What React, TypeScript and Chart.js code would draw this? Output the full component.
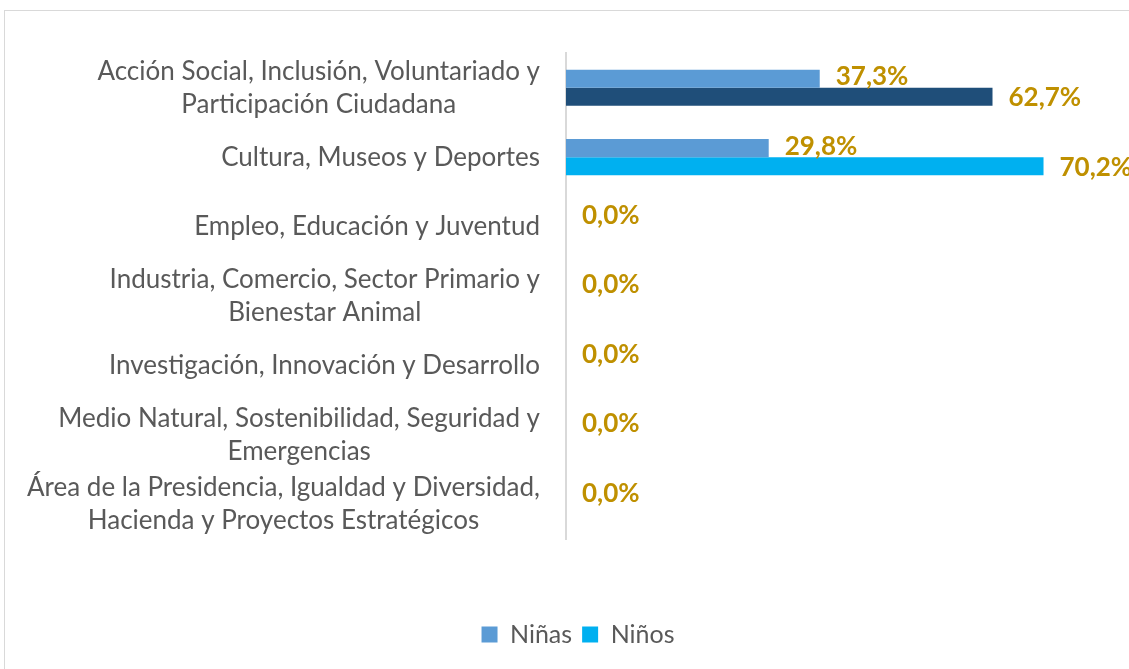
import React, { useEffect, useRef } from 'react';
import { Chart, registerables } from 'chart.js';

Chart.register(...registerables);

const categories: string[][] = [
  ['Acción Social, Inclusión, Voluntariado y', 'Participación Ciudadana'],
  ['Cultura, Museos y Deportes'],
  ['Empleo, Educación y Juventud'],
  ['Industria, Comercio, Sector Primario y', 'Bienestar Animal'],
  ['Investigación, Innovación y Desarrollo'],
  ['Medio Natural, Sostenibilidad, Seguridad y', 'Emergencias'],
  ['Área de la Presidencia, Igualdad y Diversidad,', 'Hacienda y Proyectos Estratégicos'],
];
const seriesNames = ['Niñas', 'Niños'];
const ninas = [37.3, 29.8, 0, 0, 0, 0, 0];
const ninos = [62.7, 70.2, 0, 0, 0, 0, 0];

const NINAS_COLOR = '#5b9bd5';
const NINOS_COLOR = '#00b0f0';
const NINOS_FIRST = '#1f4e79';
const LABEL_COLOR = '#595959';
const VALUE_COLOR = '#bf9000';
const FONT = 'Lato, "Open Sans", sans-serif';

const fmt = (v: number) => v.toFixed(1).replace('.', ',') + '%';

const categoryLabelPlugin = {
  id: 'categoryLabels',
  afterDraw(chart: any) {
    const { ctx } = chart;
    const y = chart.scales.y;
    const right = y.right - 26;
    const lh = 33;
    ctx.save();
    ctx.font = `26px ${FONT}`;
    ctx.fillStyle = LABEL_COLOR;
    ctx.textAlign = 'center';
    ctx.textBaseline = 'middle';
    categories.forEach((lines, i) => {
      const cy = y.getPixelForTick(i);
      const w = Math.max(...lines.map((l) => ctx.measureText(l).width));
      const cx = right - w / 2;
      const y0 = cy - ((lines.length - 1) * lh) / 2;
      lines.forEach((l, k) => ctx.fillText(l, cx, y0 + k * lh));
    });
    ctx.restore();
  },
};

const valueLabelPlugin = {
  id: 'valueLabels',
  afterDatasetsDraw(chart: any) {
    const { ctx } = chart;
    ctx.save();
    ctx.font = `bold 26px ${FONT}`;
    ctx.fillStyle = VALUE_COLOR;
    ctx.textAlign = 'left';
    ctx.textBaseline = 'middle';
    chart.data.datasets.forEach((ds: any, di: number) => {
      const meta = chart.getDatasetMeta(di);
      meta.data.forEach((bar: any, i: number) => {
        const v = ds.data[i];
        if (v === 0 && di > 0) return;
        ctx.fillText(fmt(v), bar.x + 16, bar.y + (di === 0 ? -2 : 1));
      });
    });
    ctx.restore();
  },
};

export default function App() {
  const ref = useRef<HTMLCanvasElement>(null);
  useEffect(() => {
    if (!ref.current) return;
    const chart = new Chart(ref.current, {
      type: 'bar',
      data: {
        labels: categories.map((c) => c.join(' ')),
        datasets: [
          {
            label: seriesNames[0],
            data: ninas,
            backgroundColor: NINAS_COLOR,
            categoryPercentage: 0.52,
            barPercentage: 1,
          },
          {
            label: seriesNames[1],
            data: ninos,
            backgroundColor: ninos.map((_, i) => (i === 0 ? NINOS_FIRST : NINOS_COLOR)),
            categoryPercentage: 0.52,
            barPercentage: 1,
          },
        ],
      },
      options: {
        indexAxis: 'y',
        animation: false,
        responsive: true,
        maintainAspectRatio: false,
        layout: { padding: { top: 42, bottom: 34, left: 0, right: 0 } },
        scales: {
          x: {
            min: 0,
            max: 86,
            ticks: { display: false },
            grid: { display: false },
            border: { display: false },
            afterFit: (s: any) => {
              s.height = 73;
            },
          },
          y: {
            ticks: { display: false },
            grid: { display: false, drawTicks: false },
            border: { display: true, color: '#d9d9d9', width: 2 },
            afterFit: (s: any) => {
              s.width = 561;
            },
          },
        },
        plugins: {
          tooltip: { enabled: false },
          legend: {
            position: 'bottom',
            labels: {
              boxWidth: 16,
              boxHeight: 16,
              padding: 10,
              color: LABEL_COLOR,
              font: { family: FONT, size: 25 },
              generateLabels: (ch: any) => {
                const items = Chart.defaults.plugins.legend.labels.generateLabels(ch);
                const cols = [NINAS_COLOR, NINOS_COLOR];
                items.forEach((it: any, i: number) => {
                  it.fillStyle = cols[i];
                  it.strokeStyle = cols[i];
                  it.lineWidth = 0;
                });
                return items;
              },
            },
          },
        },
      },
      plugins: [categoryLabelPlugin, valueLabelPlugin],
    });
    return () => chart.destroy();
  }, []);

  return (
    <div
      style={{
        position: 'absolute',
        left: 0,
        top: 0,
        width: 1129,
        height: 669,
        overflow: 'hidden',
        background: '#ffffff',
      }}
    >
      <div
        style={{
          position: 'absolute',
          left: 4,
          top: 10,
          width: 1146,
          height: 680,
          border: '1px solid #d9d9d9',
        }}
      >
        <canvas ref={ref} />
      </div>
    </div>
  );
}
